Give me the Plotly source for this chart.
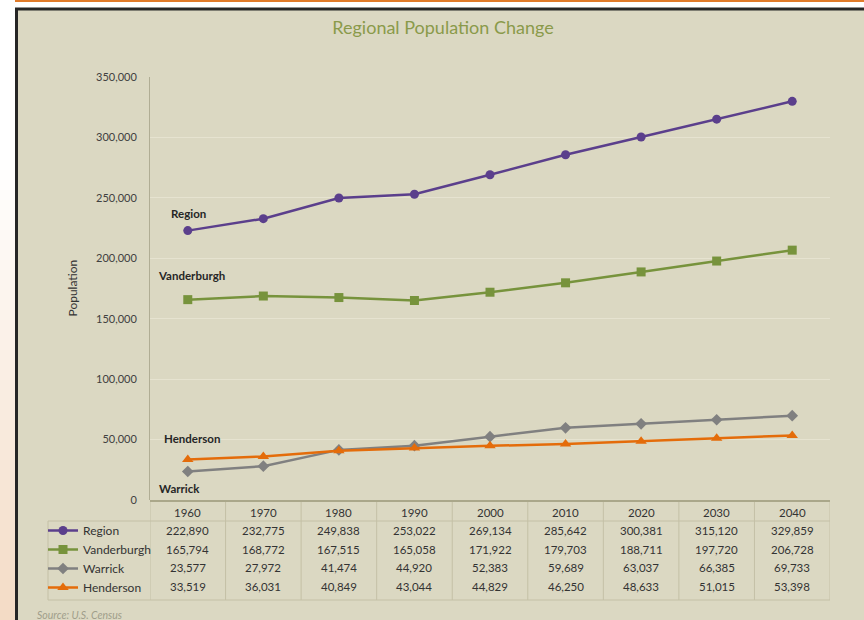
import plotly.graph_objects as go

years = ['1960', '1970', '1980', '1990', '2000', '2010', '2020', '2030', '2040']
region = [222890, 232775, 249838, 253022, 269134, 285642, 300381, 315120, 329859]
vanderburgh = [165794, 168772, 167515, 165058, 171922, 179703, 188711, 197720, 206728]
warrick = [23577, 27972, 41474, 44920, 52383, 59689, 63037, 66385, 69733]
henderson = [33519, 36031, 40849, 43044, 44829, 46250, 48633, 51015, 53398]

series_names = ['Region', 'Vanderburgh', 'Warrick', 'Henderson']
series_values = [region, vanderburgh, warrick, henderson]
series_colors = ['#5b3f8c', '#77933c', '#808080', '#e46c0a']
series_symbols = ['circle', 'square', 'diamond', 'triangle-up']
series_sizes = [9, 9, 9, 10]

W, H = 864, 620
BG = '#dbd8c2'
FONT = 'Lato'


def px(x):
    return x / W


def py(y):
    return 1 - y / H


fig = go.Figure()

for name, vals, col, sym, sz in zip(series_names, series_values, series_colors,
                                    series_symbols, series_sizes):
    fig.add_trace(go.Scatter(
        x=years, y=vals, name=name, mode='lines+markers',
        line=dict(color=col, width=2.5),
        marker=dict(symbol=sym, size=sz, color=col),
    ))

shapes = []
# left gradient strip (white at top -> peach at bottom)
for i in range(47):
    y0 = 150 + i * 10
    t = i / 46
    r = 255 - int(t * 12)
    g = 255 - int(t * 36)
    b = 255 - int(t * 58)
    shapes.append(dict(type='rect', xref='paper', yref='paper',
                       x0=px(0), x1=px(16), y0=py(y0 + 10), y1=py(y0),
                       fillcolor=f'rgb({r},{g},{b})', line_width=0, layer='below'))
# orange top rule
shapes.append(dict(type='rect', xref='paper', yref='paper', x0=px(15), x1=1,
                   y0=py(2), y1=1, fillcolor='#e07b2a', line_width=0, layer='below'))
# dark framed panel
shapes.append(dict(type='rect', xref='paper', yref='paper', x0=px(16.5), x1=px(870),
                   y0=py(630), y1=py(9), fillcolor=BG,
                   line=dict(color='#262626', width=3), layer='below'))

# data table grid
grid_col = '#c4c0a6'
for k in range(len(years) + 1):
    shapes.append(dict(type='line', xref='x', yref='paper', x0=k - 0.5, x1=k - 0.5,
                       y0=py(600), y1=py(500), line=dict(color=grid_col, width=1)))
shapes.append(dict(type='line', xref='paper', yref='paper', x0=px(48), x1=px(830),
                   y0=py(521), y1=py(521), line=dict(color=grid_col, width=1)))
shapes.append(dict(type='line', xref='paper', yref='paper', x0=px(48), x1=px(830),
                   y0=py(600), y1=py(600), line=dict(color=grid_col, width=1)))
shapes.append(dict(type='line', xref='paper', yref='paper', x0=px(48), x1=px(48),
                   y0=py(600), y1=py(521), line=dict(color=grid_col, width=1)))
shapes.append(dict(type='line', xref='paper', yref='paper', x0=px(150), x1=px(830),
                   y0=py(501), y1=py(501), line=dict(color='#aaa78a', width=2)))

annotations = []
# year header row (category index positions)
for j, yr in enumerate(years):
    annotations.append(dict(x=j, xref='x', y=py(512), yref='paper', text=yr,
                            yanchor='middle', showarrow=False,
                            font=dict(size=11.5, color='#333333')))
# value rows
row_y = [530, 549, 567, 586]
for vals, ry in zip(series_values, row_y):
    for j, v in enumerate(vals):
        annotations.append(dict(x=j, xref='x', y=py(ry), yref='paper',
                                text=f'{v:,}', yanchor='middle', showarrow=False,
                                font=dict(size=11.5, color='#333333')))

# inline series labels near the first point
label_shift = {'Region': (-19, 17), 'Vanderburgh': (-32, 24),
               'Henderson': (-26, 21), 'Warrick': (-31, -17)}
for name, vals in zip(series_names, series_values):
    dx, dy = label_shift[name]
    annotations.append(dict(x=0, y=vals[0], text=f'<b>{name}</b>',
                            showarrow=False, xanchor='left', xshift=dx, yshift=dy,
                            font=dict(size=11.5, color='#262626')))

annotations.append(dict(x=px(62), y=py(288), xref='paper', yref='paper',
                        text='Population', textangle=-90, showarrow=False,
                        font=dict(size=12, color='#333333')))
annotations.append(dict(x=px(35), y=py(615), xref='paper', yref='paper',
                        text='<i>Source: U.S. Census</i>', showarrow=False,
                        xanchor='left', yanchor='middle',
                        font=dict(size=10.5, color='#a09e8a')))

fig.update_layout(
    width=W, height=H,
    margin=dict(l=0, r=0, t=0, b=0, autoexpand=False),
    paper_bgcolor='white', plot_bgcolor=BG,
    font=dict(family=FONT, color='#333333'),
    title=dict(text='Regional Population Change', x=px(443), y=py(28),
               xref='paper', yref='paper', xanchor='center', yanchor='middle',
               font=dict(size=18, color='#8a9a4a', family=FONT)),
    xaxis=dict(type='category', domain=[px(150), px(830)], showticklabels=False,
               showgrid=False, zeroline=False, automargin=False,
               range=[-0.5, len(years) - 0.5]),
    yaxis=dict(domain=[py(500), py(77)], range=[0, 350000], dtick=50000,
               tickformat=',', showgrid=True, gridcolor='#e6e3d0', gridwidth=1,
               zeroline=False, showline=True, linecolor='#b0ad94', linewidth=1,
               ticks='', ticklabelstandoff=10, automargin=False,
               tickfont=dict(size=11, color='#404040')),
    legend=dict(x=px(43), y=py(516), xanchor='left', yanchor='top',
                bgcolor='rgba(0,0,0,0)', font=dict(size=12, color='#333333'),
                tracegroupgap=0, itemwidth=30),
    shapes=shapes,
    annotations=annotations,
)

fig.write_html('out.html', config={'displayModeBar': False},
               post_script="document.body.style.margin='0';")
